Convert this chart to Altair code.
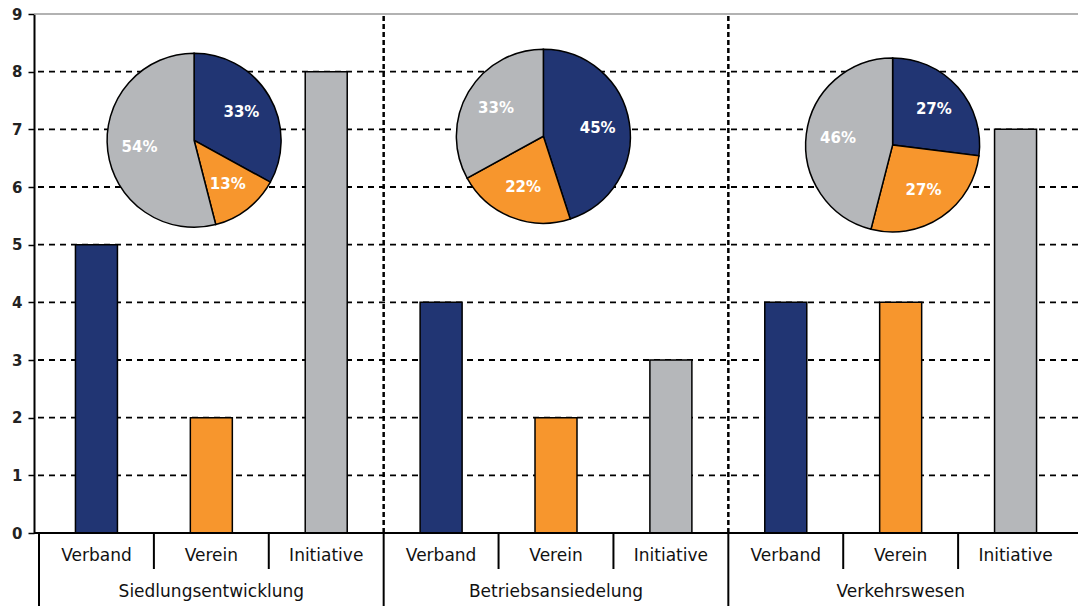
import math
import altair as alt
import pandas as pd

# ---------------- data ----------------
groups = ["Siedlungsentwicklung", "Betriebsansiedelung", "Verkehrswesen"]
types = ["Verband", "Verein", "Initiative"]

verband_counts = [5, 4, 4]
verein_counts = [2, 2, 4]
initiative_counts = [8, 3, 7]

verband_pct = [33, 45, 27]
verein_pct = [13, 22, 27]
initiative_pct = [54, 33, 46]

y_ticks = [0, 1, 2, 3, 4, 5, 6, 7, 8, 9]

# ---------------- layout / style ----------------
W, H = 1044, 519
colors = ["#213573", "#f7962d", "#b5b7ba"]
FONT = "DejaVu Sans"
# pie centres: offset from the "Verein" slot (x units) and height (y units)
pie_dx = [-0.15, -0.11, -0.07]
pie_cy = [6.81, 6.88, 6.73]
PIE_R = 87

counts = [verband_counts, verein_counts, initiative_counts]
pcts = [verband_pct, verein_pct, initiative_pct]

bar_rows = []
for gi, g in enumerate(groups):
    for ti, t in enumerate(types):
        bar_rows.append({"group": g, "type": t, "x": gi * 3 + ti + 0.5,
                         "value": counts[ti][gi]})
bars_df = pd.DataFrame(bar_rows)

pie_rows = []
for gi, g in enumerate(groups):
    total = sum(pcts[ti][gi] for ti in range(3))
    acc = 0.0
    for ti, t in enumerate(types):
        p = pcts[ti][gi]
        start = acc / total
        acc += p
        end = acc / total
        pie_rows.append({"group": g, "type": t, "label": f"{p}%",
                         "start": start, "end": end, "mid": (start + end) / 2,
                         "cx": gi * 3 + 1.5 + pie_dx[gi], "cy": pie_cy[gi]})
pie_df = pd.DataFrame(pie_rows)

xscale = alt.Scale(domain=[0, 9], nice=False, zero=False)
yscale = alt.Scale(domain=[0, 9], nice=False)
tscale = alt.Scale(domain=[0, 1], range=[0, 2 * math.pi])
cscale = alt.Scale(domain=types, range=colors)

grid_df = pd.DataFrame({"v": y_ticks[1:-1]})
top_df = pd.DataFrame({"v": [y_ticks[-1]]})
vsep_df = pd.DataFrame({"x": [3, 6], "y0": [0, 0], "y1": [9, 9]})
inner_sep_df = pd.DataFrame({"x": [1, 2, 4, 5, 7, 8]})
group_sep_df = pd.DataFrame({"x": [0, 3, 6]})
group_lab_df = pd.DataFrame({"group": groups, "x": [1.5, 4.5, 7.5]})

grid = alt.Chart(grid_df).mark_rule(color="black", strokeWidth=1.8, strokeDash=[6, 5]).encode(
    y=alt.Y("v:Q", scale=yscale,
            axis=alt.Axis(values=y_ticks, format="d", title=None, grid=False,
                          domainColor="black", domainWidth=2, tickColor="black",
                          tickWidth=1.5, tickSize=6, labelFont=FONT, labelFontSize=15,
                          labelFontWeight="bold", labelColor="#222", labelPadding=6))
)

top = alt.Chart(top_df).mark_rule(color="#999999", strokeWidth=1.5).encode(
    y=alt.Y("v:Q", scale=yscale)
)

vsep = alt.Chart(vsep_df).mark_rule(color="black", strokeWidth=2.5, strokeDash=[5, 3]).encode(
    x=alt.X("x:Q", scale=xscale, axis=None),
    y=alt.Y("y0:Q", scale=yscale),
    y2="y1:Q",
)

bars = alt.Chart(bars_df).mark_bar(size=42, stroke="black", strokeWidth=1.5).encode(
    x=alt.X("x:Q", scale=xscale, axis=None),
    y=alt.Y("value:Q", scale=yscale),
    color=alt.Color("type:N", scale=cscale, legend=None),
)

baseline = alt.Chart(top_df).mark_rule(color="black", strokeWidth=2).encode(
    y=alt.datum(0)
)

arcs = alt.Chart(pie_df).mark_arc(stroke="black", strokeWidth=1.5).encode(
    x=alt.X("cx:Q", scale=xscale, axis=None),
    y=alt.Y("cy:Q", scale=yscale),
    theta=alt.Theta("start:Q", scale=tscale, stack=None),
    theta2="end:Q",
    radius=alt.value(PIE_R),
    color=alt.Color("type:N", scale=cscale, legend=None),
)

pie_labels = alt.Chart(pie_df).mark_text(
    radius=55, font=FONT, fontSize=15, fontWeight="bold", color="white",
    align="center", baseline="middle"
).encode(
    x=alt.X("cx:Q", scale=xscale, axis=None),
    y=alt.Y("cy:Q", scale=yscale),
    theta=alt.Theta("mid:Q", scale=tscale, stack=None),
    text="label:N",
)

cat_labels = alt.Chart(bars_df).mark_text(
    font=FONT, fontSize=17, color="#111", baseline="middle", dy=23
).encode(
    x=alt.X("x:Q", scale=xscale, axis=None),
    y=alt.datum(0),
    text="type:N",
)

grp_labels = alt.Chart(group_lab_df).mark_text(
    font=FONT, fontSize=17, color="#111", baseline="middle", dy=59
).encode(
    x=alt.X("x:Q", scale=xscale, axis=None),
    y=alt.datum(0),
    text="group:N",
)

inner_sep = alt.Chart(inner_sep_df).mark_rule(color="black", strokeWidth=2).encode(
    x=alt.X("x:Q", scale=xscale, axis=None),
    y=alt.value(H),
    y2=alt.value(H + 36),
)

group_sep = alt.Chart(group_sep_df).mark_rule(color="black", strokeWidth=2).encode(
    x=alt.X("x:Q", scale=xscale, axis=None),
    y=alt.value(H),
    y2=alt.value(H + 73),
)

chart = alt.layer(
    grid, top, vsep, bars, baseline, arcs, pie_labels,
    cat_labels, grp_labels, inner_sep, group_sep
).properties(
    width=W, height=H,
    autosize=alt.AutoSizeParams(type="none"),
    padding={"left": 34, "top": 14, "right": 0, "bottom": 73},
    background="white",
).configure_view(stroke=None)

chart.save("out.html", embed_options={"renderer": "svg", "actions": False})
